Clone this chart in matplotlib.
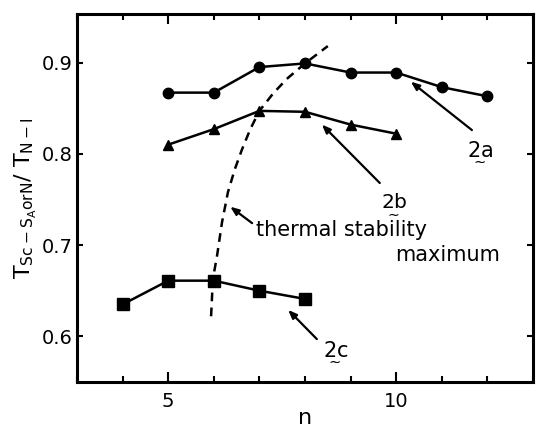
import matplotlib
matplotlib.use("Agg")
import matplotlib.pyplot as plt
from matplotlib.ticker import MultipleLocator

# data
n_2a = [5, 6, 7, 8, 9, 10, 11, 12]
t_2a = [0.867, 0.867, 0.895, 0.899, 0.889, 0.889, 0.873, 0.863]

n_2b = [5, 6, 7, 8, 9, 10]
t_2b = [0.810, 0.827, 0.847, 0.846, 0.832, 0.822]

n_2c = [4, 5, 6, 7, 8]
t_2c = [0.635, 0.661, 0.661, 0.650, 0.641]

# dashed "thermal stability maximum" curve
n_max = [5.94, 5.98, 6.07, 6.18, 6.31, 6.46, 6.62, 6.80, 7.00, 7.30, 7.60, 8.00, 8.50]
t_max = [0.622, 0.663, 0.688, 0.725, 0.758, 0.783, 0.805, 0.827, 0.847, 0.866, 0.882, 0.899, 0.918]

plt.rcParams['font.family'] = ['DejaVu Sans']

fig = plt.figure(figsize=(5.36, 4.28), dpi=100)
ax = fig.add_axes([0.1437, 0.1075, 0.8507, 0.8595])

lw = 1.8
ax.plot(n_2a, t_2a, 'k-', marker='o', ms=7.5, lw=lw)
ax.plot(n_2b, t_2b, 'k-', marker='^', ms=7.5, lw=lw)
ax.plot(n_2c, t_2c, 'k-', marker='s', ms=8.5, lw=lw)
ax.plot(n_max, t_max, 'k--', lw=1.8, dashes=(3.5, 2.5))

arrow = dict(arrowstyle='-|>,head_length=0.5,head_width=0.2', color='k', lw=1.6,
             shrinkA=0, shrinkB=0)


def label(text, xy_text, xy_head, tail, size=15):
    # compound number with the wavy underline used for bold
    ax.annotate('', xy=xy_head, xytext=tail, arrowprops=arrow)
    ax.text(xy_text[0], xy_text[1], r'$\mathregular{\underset{\sim}{%s}}$' % text,
            ha='center', va='baseline', fontsize=size)


label('2a', (11.84, 0.800), (10.32, 0.879), (11.66, 0.826))
label('2b', (9.95, 0.742), (8.37, 0.832), (9.64, 0.768), size=14.5)
label('2c', (8.68, 0.581), (7.63, 0.629), (8.26, 0.597))

ax.annotate('', xy=(6.36, 0.742), xytext=(6.84, 0.724), arrowprops=arrow)
ax.text(6.93, 0.710, 'thermal stability', ha='left', va='baseline', fontsize=15)
ax.text(12.28, 0.683, 'maximum', ha='right', va='baseline', fontsize=15)

ax.set_xlim(3, 13)
ax.set_ylim(0.55, 0.953)
ax.xaxis.set_major_locator(MultipleLocator(5))
ax.xaxis.set_minor_locator(MultipleLocator(1))
ax.set_yticks([0.6, 0.7, 0.8, 0.9])
ax.set_yticklabels(['0.6', '0.7', '0.8', '0.9'])

ax.tick_params(which='both', direction='in', top=True, right=True,
               labelsize=14, width=1.5)
ax.tick_params(axis='x', which='major', length=7, pad=7)
ax.tick_params(axis='x', which='minor', length=4)
ax.tick_params(axis='y', which='major', length=4, pad=3)

for s in ax.spines.values():
    s.set_linewidth(2.2)

ax.set_xlabel('n', fontsize=16, labelpad=-2)
ax.set_ylabel(r'$\mathregular{T_{Sc-S_{A}orN}/\ T_{N-I}}$', fontsize=16, labelpad=2)

fig.savefig('out.png', dpi=100)
